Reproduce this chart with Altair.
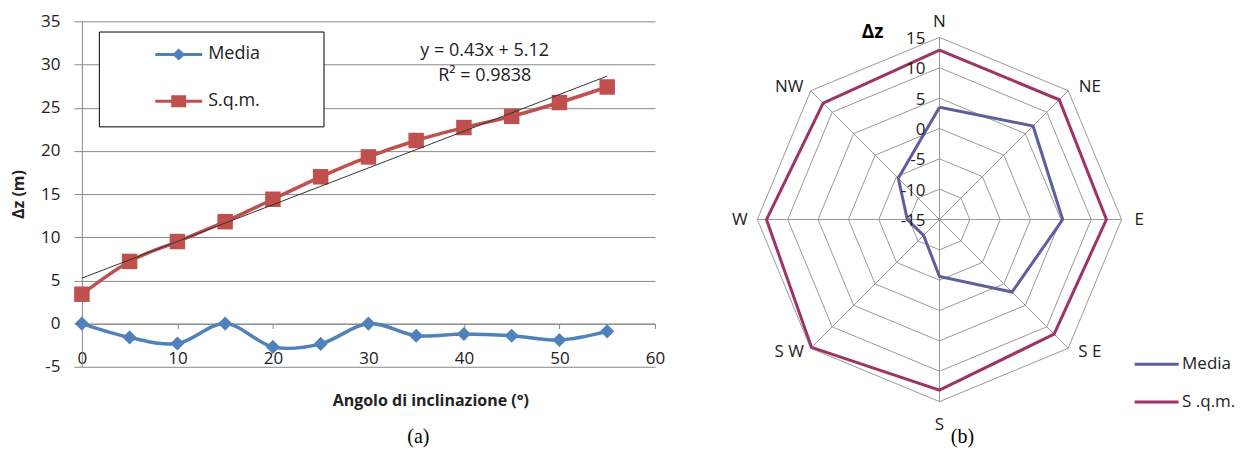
import math
import altair as alt
import pandas as pd

# ---------------- data : panel (a)
angles = [0, 5, 10, 15, 20, 25, 30, 35, 40, 45, 50, 55]
media_a = [0.0, -1.6, -2.3, 0.0, -2.7, -2.35, 0.0, -1.4, -1.2, -1.4, -1.9, -0.9]
sqm_a = [3.4, 7.2, 9.5, 11.8, 14.4, 17.0, 19.3, 21.2, 22.7, 24.0, 25.6, 27.4]
series_a = ["Media", "S.q.m."]
x_ticks = [0, 10, 20, 30, 40, 50, 60]
y_ticks = [-5, 0, 5, 10, 15, 20, 25, 30, 35]
trend_lines = ["y = 0.43x + 5.12", "R² = 0.9838"]
caption_a = "(a)"
x_title = "Angolo di inclinazione (°)"
y_title = "Δz (m)"

# ---------------- data : panel (b)
directions = ["N", "NE", "E", "S E", "S", "S W", "W", "NW"]
media_b = [3.5, 6.8, 5.3, 1.9, -5.6, -11.3, -9.7, -5.4]
sqm_b = [12.9, 12.9, 12.5, 11.7, 13.1, 14.8, 13.5, 12.1]
series_b = ["Media", "S .q.m."]
ring_levels = [-15, -10, -5, 0, 5, 10, 15]
caption_b = "(b)"
radar_title = "Δz"

# ---------------- style / layout
FONT = "Open Sans"
SERIF = "Liberation Serif"
BLUE, RED = "#4F81BD", "#C0504D"
PURPLE, PLUM = "#5E5E9E", "#9E3366"
GRID, GRID_B = "#888888", "#9a9a9a"
TXT = "#222222"

PLOT_TOP = 20.5          # page y of the plot tops
WA, HA = 574, 346
XMIN, XMAX, YMIN, YMAX = 0, 60, -5, 35
PXU_X, PXU_Y = WA / (XMAX - XMIN), HA / (YMAX - YMIN)
Y0_PAGE = PLOT_TOP + YMAX * PXU_Y   # page y of value 0
X0_PAGE = 82


def ya(py):
    return (Y0_PAGE - py) / PXU_Y


def xa(px):
    return (px - X0_PAGE) / PXU_X


WB, HB = 516, 426
PXU = 182.4 / 30.0
CX, CY = 219.0, 219.0 - PLOT_TOP
RMIN = ring_levels[0]
# direction label distances from the radar centre (px), per direction
LAB_RX = [0, 213, 200, 213, 0, 213, 200, 213]
LAB_RY = [198, 187, 0, 187, 206, 187, 0, 187]

# ---------------- panel (a)
rows = []
for a, m, s in zip(angles, media_a, sqm_a):
    rows.append({"angle": a, "value": m, "series": series_a[0]})
    rows.append({"angle": a, "value": s, "series": series_a[1]})
df_a = pd.DataFrame(rows)

x_axis_offset = HA * (YMAX - 0) / (YMAX - YMIN) - HA
x_enc = alt.X(
    "angle:Q",
    scale=alt.Scale(domain=[XMIN, XMAX], nice=False, zero=False),
    axis=alt.Axis(
        values=x_ticks, grid=False, offset=x_axis_offset, domainColor=GRID,
        tickColor=GRID, tickSize=5, labelPadding=22, labelFont=FONT,
        labelFontSize=17, labelColor=TXT, labelFlush=False,
        title=x_title, titleFont=FONT, titleFontSize=16, titleFontWeight="bold",
        titleColor=TXT, titleX=349, titleY=77, titleBaseline="middle",
    ),
)
y_enc = alt.Y(
    "value:Q",
    scale=alt.Scale(domain=[YMIN, YMAX], nice=False, zero=False),
    axis=alt.Axis(
        values=y_ticks, grid=True, gridColor=GRID, domainColor=GRID,
        tickColor=GRID, tickSize=8, labelPadding=14, labelFont=FONT,
        labelFontSize=17, labelColor=TXT, labelExpr="datum.value + ''",
        title=y_title, titleFont=FONT, titleFontSize=16, titleFontWeight="bold",
        titleColor=TXT, titleX=-63, titleY=173, titleBaseline="middle",
    ),
)

media_src = alt.Chart(df_a).transform_filter(alt.datum.series == series_a[0])
sqm_src = alt.Chart(df_a).transform_filter(alt.datum.series == series_a[1])

media_line = media_src.mark_line(color=BLUE, strokeWidth=3.5, interpolate="cardinal").encode(x=x_enc, y=y_enc)
sqm_line = sqm_src.mark_line(color=RED, strokeWidth=3.5, interpolate="cardinal").encode(x=x_enc, y=y_enc)
media_pts = media_src.mark_point(shape="diamond", filled=True, size=200, color=BLUE, opacity=1).encode(x=x_enc, y=y_enc)
sqm_pts = sqm_src.mark_point(shape="square", filled=True, size=240, color=RED, opacity=1).encode(x=x_enc, y=y_enc)
trend = sqm_src.transform_regression("angle", "value").mark_line(color="#333333", strokeWidth=1).encode(x=x_enc, y=y_enc)

df_trend = pd.DataFrame({
    "angle": [xa(485.5), xa(485.5)],
    "value": [ya(50), ya(75.7)],
    "label": trend_lines,
})
trend_txt = alt.Chart(df_trend).mark_text(font=FONT, fontSize=18, color=TXT).encode(x=x_enc, y=y_enc, text="label:N")

df_cap_a = pd.DataFrame({"angle": [xa(419)], "value": [ya(437)], "label": [caption_a]})
cap_a = alt.Chart(df_cap_a).mark_text(font=SERIF, fontSize=20, color="black").encode(x=x_enc, y=y_enc, text="label:N")

PATH_MEDIA = "M-13.5,0M-4.7,0L4.7,0M0,-0.8L0.85,0L0,0.8L-0.85,0ZM25,0"
PATH_SQM = "M-13.5,0M-4.7,0L4.7,0M-1.2,-0.9L1.2,-0.9L1.2,0.9L-1.2,0.9ZM25,0"
legend_a = alt.Legend(
    orient="none", legendX=17, legendY=30.7 - PLOT_TOP, title=None, fillColor="white",
    strokeColor="black", padding=14, labelFont=FONT, labelFontSize=18,
    labelColor=TXT, symbolSize=100, symbolStrokeWidth=3, symbolOffset=57,
    labelOffset=20.5, rowPadding=25.8,
)
legend_dummy = alt.Chart(df_a).transform_filter("false").mark_point(opacity=1, strokeWidth=3).encode(
    x=x_enc, y=y_enc,
    shape=alt.Shape("series:N", scale=alt.Scale(domain=series_a, range=[PATH_MEDIA, PATH_SQM]), legend=legend_a),
    fill=alt.Fill("series:N", scale=alt.Scale(domain=series_a, range=[BLUE, RED]), legend=legend_a),
    stroke=alt.Stroke("series:N", scale=alt.Scale(domain=series_a, range=[BLUE, RED]), legend=legend_a),
)

left = alt.layer(
    media_line, sqm_line, media_pts, sqm_pts, trend, trend_txt, cap_a, legend_dummy
).properties(width=WA, height=HA)

# ---------------- panel (b)
def polar(r, k):
    th = math.radians(45 * k)
    return r * math.sin(th), r * math.cos(th)

ring_rows = []
for lev in ring_levels[1:]:
    for i in range(9):
        x, y = polar(lev - RMIN, i % 8)
        ring_rows.append({"x": x, "y": y, "level": lev, "ord": i})
df_rings = pd.DataFrame(ring_rows)

spoke_rows = []
for k in range(8):
    for r in (0, ring_levels[-1] - RMIN):
        x, y = polar(r, k)
        spoke_rows.append({"x": x, "y": y, "spoke": k, "ord": r})
df_spokes = pd.DataFrame(spoke_rows)

ser_rows = []
for name, vals in zip(series_b, [media_b, sqm_b]):
    for i in range(9):
        x, y = polar(vals[i % 8] - RMIN, i % 8)
        ser_rows.append({"x": x, "y": y, "series": name, "ord": i})
df_ser = pd.DataFrame(ser_rows)

lab_rows = []
for k, d in enumerate(directions):
    th = math.radians(45 * k)
    lab_rows.append({"x": LAB_RX[k] * math.sin(th) / PXU, "y": LAB_RY[k] * math.cos(th) / PXU, "label": d})
df_dirs = pd.DataFrame(lab_rows)

df_ringlab = pd.DataFrame({"x": [0.0] * len(ring_levels), "y": [lev - RMIN for lev in ring_levels],
                           "label": [str(l) for l in ring_levels]})
df_btxt = pd.DataFrame({
    "x": [(872 - 939) / PXU, (962 - 939) / PXU],
    "y": [(219 - 31) / PXU, (219 - 437) / PXU],
    "label": [radar_title, caption_b],
})

sx = alt.Scale(domain=[-CX / PXU, (WB - CX) / PXU], nice=False, zero=False)
sy = alt.Scale(domain=[-(HB - CY) / PXU, CY / PXU], nice=False, zero=False)
bx = alt.X("x:Q", scale=sx, axis=None)
by = alt.Y("y:Q", scale=sy, axis=None)

rings = alt.Chart(df_rings).mark_line(color=GRID_B, strokeWidth=1).encode(x=bx, y=by, detail="level:N", order="ord:Q")
spokes = alt.Chart(df_spokes).mark_line(color=GRID_B, strokeWidth=1).encode(x=bx, y=by, detail="spoke:N", order="ord:Q")

legend_b = alt.Legend(
    orient="none", legendX=428, legendY=364 - 8.5 - PLOT_TOP, title=None, padding=0,
    labelFont=FONT, labelFontSize=17, labelColor=TXT,
    symbolType="M-4.4,0L4.4,0", symbolSize=100, symbolStrokeWidth=3,
    labelOffset=17, rowPadding=19.7,
)
radar = alt.Chart(df_ser).mark_line(strokeWidth=3).encode(
    x=bx, y=by, order="ord:Q",
    stroke=alt.Stroke("series:N", scale=alt.Scale(domain=series_b, range=[PURPLE, PLUM]), legend=legend_b),
)
dir_txt = alt.Chart(df_dirs).mark_text(font=FONT, fontSize=17, color=TXT).encode(x=bx, y=by, text="label:N")
ring_txt = alt.Chart(df_ringlab).mark_text(font=FONT, fontSize=17, color=TXT, align="right", dx=-14, dy=1.5).encode(
    x=bx, y=by, text="label:N")
title_b = alt.Chart(df_btxt.iloc[[0]]).mark_text(font=FONT, fontSize=19, fontWeight="bold", color="black").encode(
    x=bx, y=by, text="label:N")
cap_b = alt.Chart(df_btxt.iloc[[1]]).mark_text(font=SERIF, fontSize=20, color="black").encode(
    x=bx, y=by, text="label:N")

right = alt.layer(rings, spokes, radar, dir_txt, ring_txt, title_b, cap_b).properties(width=WB, height=HB)

chart = alt.hconcat(left, right, spacing=66, bounds="flush").resolve_scale(
    x="independent", y="independent", stroke="independent", fill="independent", shape="independent"
).resolve_legend(
    stroke="independent", fill="independent", shape="independent"
).configure_view(stroke=None).properties(padding={"left": 3, "top": 4, "right": 0, "bottom": 0})

chart.save("out.html", embed_options={"renderer": "svg", "actions": False})
